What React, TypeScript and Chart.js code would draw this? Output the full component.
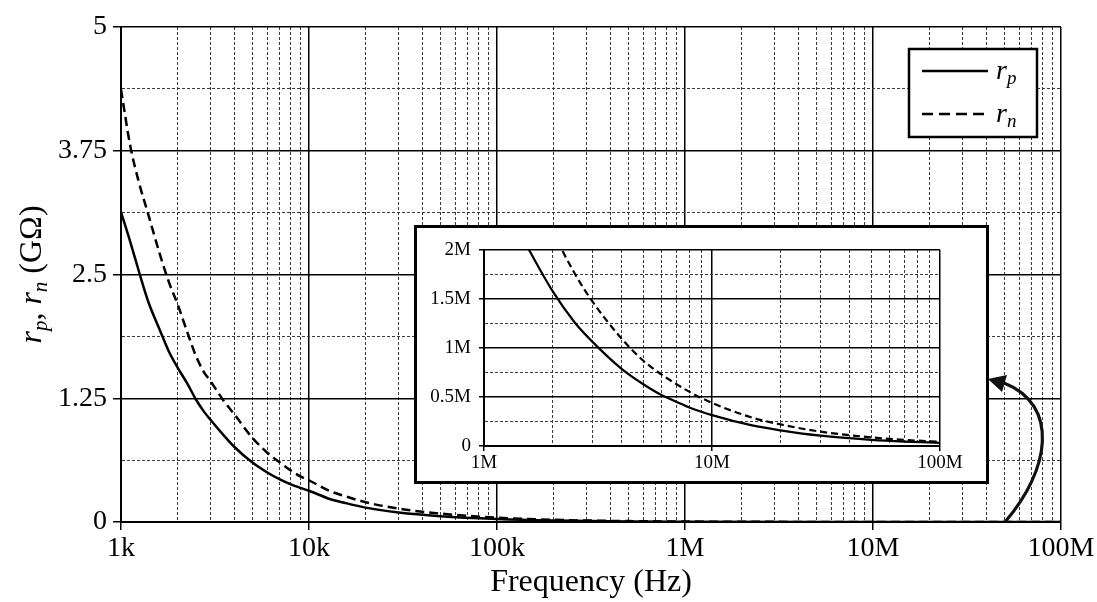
import React, { useEffect, useRef } from 'react';
import { Chart, registerables } from 'chart.js';

Chart.register(...registerables);

const FONT = '"Liberation Serif", "Times New Roman", Times, serif';

// ---- main chart data (frequency in Hz, resistance in GΩ) ----
const FREQ_MAIN = [1000, 1120, 1250, 1400, 1600, 1800, 2000, 2250, 2500, 2750, 3000, 3500, 4000, 5000, 6000, 7000, 8000, 9000, 10000, 13000, 15000, 20000, 30000, 50000, 100000, 200000, 500000, 1000000, 10000000, 100000000];
const RP_MAIN = [3.13, 2.83, 2.52, 2.22, 1.95, 1.72, 1.56, 1.4, 1.24, 1.12, 1.03, 0.88, 0.76, 0.6, 0.5, 0.43, 0.38, 0.345, 0.316, 0.23, 0.2, 0.145, 0.095, 0.058, 0.03, 0.015, 0.006, 0.003, 0.0003, 0.00003];
const RN_MAIN = [4.37, 3.8, 3.42, 3.1, 2.72, 2.42, 2.2, 1.92, 1.68, 1.52, 1.42, 1.23, 1.09, 0.85, 0.7, 0.6, 0.52, 0.46, 0.42, 0.31, 0.27, 0.2, 0.135, 0.085, 0.044, 0.022, 0.009, 0.0044, 0.0004, 0.00004];

// ---- inset data (frequency in Hz, resistance in MΩ) ----
const FREQ_INSET = [1500000, 2000000, 2500000, 3000000, 4000000, 5000000, 6000000, 7000000, 8000000, 10000000, 15000000, 20000000, 30000000, 50000000, 70000000, 100000000];
const RP_INSET = [2.09, 1.58, 1.26, 1.06, 0.79, 0.63, 0.52, 0.45, 0.39, 0.315, 0.21, 0.16, 0.105, 0.063, 0.045, 0.032];
const RN_INSET = [2.92, 2.2, 1.76, 1.47, 1.1, 0.87, 0.73, 0.63, 0.55, 0.44, 0.29, 0.22, 0.146, 0.088, 0.062, 0.044];

// ---- ticks ----
const MAIN_X_TICKS = [1e3, 1e4, 1e5, 1e6, 1e7, 1e8];
const MAIN_X_LABELS = ['1k', '10k', '100k', '1M', '10M', '100M'];
const MAIN_Y_TICKS = [0, 1.25, 2.5, 3.75, 5];
const MAIN_Y_LABELS = ['0', '1.25', '2.5', '3.75', '5'];
const INSET_X_TICKS = [1e6, 1e7, 1e8];
const INSET_X_LABELS = ['1M', '10M', '100M'];
const INSET_Y_TICKS = [0, 0.5, 1, 1.5, 2];
const INSET_Y_LABELS = ['0', '0.5M', '1M', '1.5M', '2M'];

const X_TITLE = 'Frequency (Hz)';
const Y_TITLE_PARTS = [
  { t: 'r', it: true, sub: false },
  { t: 'p', it: true, sub: true },
  { t: ', ', it: false, sub: false },
  { t: 'r', it: true, sub: false },
  { t: 'n', it: true, sub: true },
  { t: ' (GΩ)', it: false, sub: false },
];
const LEGEND_ITEMS = [
  { main: 'r', sub: 'p', dashed: false },
  { main: 'r', sub: 'n', dashed: true },
];

function logGrid(min: number, max: number): number[] {
  const out: number[] = [];
  const e0 = Math.round(Math.log10(min));
  const e1 = Math.round(Math.log10(max));
  for (let e = e0; e < e1; e++) {
    for (let s = 1; s <= 9; s++) out.push(s * Math.pow(10, e));
  }
  out.push(max);
  return out;
}

function linGrid(majors: number[]): number[] {
  const out: number[] = [];
  for (let i = 0; i < majors.length; i++) {
    out.push(majors[i]);
    if (i < majors.length - 1) out.push((majors[i] + majors[i + 1]) / 2);
  }
  return out;
}

const isIn = (arr: number[], v: number) => arr.some((a) => Math.abs(a - v) < 1e-9 * Math.max(1, Math.abs(a)));

function gridOpts(majors: number[], tickLen: number, majorWidth: number) {
  const maj = (ctx: any) => ctx.tick && isIn(majors, ctx.tick.value);
  return {
    grid: {
      color: (ctx: any) => (maj(ctx) ? '#000' : '#3a3a3a'),
      lineWidth: (ctx: any) => (maj(ctx) ? majorWidth : 1),
      tickColor: (ctx: any) => (maj(ctx) ? '#000' : 'rgba(0,0,0,0)'),
      tickLength: tickLen,
      tickWidth: majorWidth,
      drawTicks: true,
    },
    border: {
      display: true,
      color: '#000',
      width: 2,
      dash: (ctx: any) => (ctx.tick && !maj(ctx) ? [3, 2] : []),
    },
  };
}

function labelFrom(ticks: number[], labels: string[]) {
  return (v: any) => {
    const i = ticks.findIndex((t) => Math.abs(t - v) < 1e-9 * Math.max(1, Math.abs(t)));
    return i >= 0 ? labels[i] : '';
  };
}

const mainDecor = {
  id: 'mainDecor',
  afterDraw(chart: any) {
    const ctx = chart.ctx as CanvasRenderingContext2D;
    // ---- Y axis title (rich text, rotated) ----
    ctx.save();
    const big = 32;
    const small = 21;
    const fontOf = (p: any) => `${p.it ? 'italic ' : ''}${p.sub ? small : big}px ${FONT}`;
    let total = 0;
    const widths = Y_TITLE_PARTS.map((p) => {
      ctx.font = fontOf(p);
      const w = ctx.measureText(p.t).width;
      total += w;
      return w;
    });
    const cy = (chart.chartArea.top + chart.chartArea.bottom) / 2;
    ctx.translate(41, cy);
    ctx.rotate(-Math.PI / 2);
    ctx.fillStyle = '#000';
    ctx.textBaseline = 'alphabetic';
    ctx.textAlign = 'left';
    let x = -total / 2;
    Y_TITLE_PARTS.forEach((p, i) => {
      ctx.font = fontOf(p);
      ctx.fillText(p.t, x, p.sub ? 6 : 0);
      x += widths[i];
    });
    ctx.restore();

    // ---- legend ----
    ctx.save();
    ctx.fillStyle = '#fff';
    ctx.fillRect(909, 49, 128, 88);
    ctx.lineWidth = 2.5;
    ctx.strokeStyle = '#000';
    ctx.strokeRect(909, 49, 128, 88);
    LEGEND_ITEMS.forEach((it, i) => {
      const y = 71 + i * 43;
      ctx.beginPath();
      ctx.setLineDash(it.dashed ? [11, 6] : []);
      ctx.lineWidth = 2.5;
      ctx.moveTo(922, y);
      ctx.lineTo(988, y);
      ctx.stroke();
      ctx.setLineDash([]);
      ctx.fillStyle = '#000';
      ctx.textBaseline = 'alphabetic';
      ctx.font = `italic 28px ${FONT}`;
      ctx.fillText(it.main, 996, y + 8);
      const w = ctx.measureText(it.main).width;
      ctx.font = `italic 19px ${FONT}`;
      ctx.fillText(it.sub, 996 + w, y + 13);
    });
    ctx.restore();

    // ---- arrow to the inset ----
    ctx.save();
    ctx.strokeStyle = '#111';
    ctx.fillStyle = '#111';
    ctx.lineWidth = 3.2;
    ctx.beginPath();
    ctx.moveTo(1005, 522);
    ctx.bezierCurveTo(1050, 470, 1060, 405, 1004, 383);
    ctx.stroke();
    ctx.beginPath();
    ctx.moveTo(988, 379);
    ctx.lineTo(1007, 375);
    ctx.lineTo(1002, 392);
    ctx.closePath();
    ctx.fill();
    ctx.restore();
  },
};

function MainChart() {
  const ref = useRef<HTMLCanvasElement>(null);
  useEffect(() => {
    const xGrid = logGrid(1e3, 1e8);
    const yGrid = linGrid(MAIN_Y_TICKS);
    const chart = new Chart(ref.current!, {
      type: 'line',
      data: {
        datasets: [
          {
            label: 'rp',
            data: FREQ_MAIN.map((f, i) => ({ x: f, y: RP_MAIN[i] })),
            borderColor: '#000',
            borderWidth: 2.5,
            pointRadius: 0,
            cubicInterpolationMode: 'monotone',
            fill: false,
          },
          {
            label: 'rn',
            data: FREQ_MAIN.map((f, i) => ({ x: f, y: RN_MAIN[i] })),
            borderColor: '#000',
            borderWidth: 2.5,
            borderDash: [9, 5],
            pointRadius: 0,
            cubicInterpolationMode: 'monotone',
            fill: false,
          },
        ],
      },
      options: {
        animation: false,
        responsive: false,
        maintainAspectRatio: false,
        layout: { padding: { top: 27, right: 36, bottom: 0, left: 0 } },
        plugins: { legend: { display: false }, tooltip: { enabled: false } },
        scales: {
          x: {
            type: 'logarithmic',
            min: 1e3,
            max: 1e8,
            afterBuildTicks: (s: any) => {
              s.ticks = xGrid.map((v) => ({ value: v }));
            },
            afterFit: (s: any) => {
              s.height = 80;
            },
            ticks: {
              autoSkip: false,
              maxRotation: 0,
              minRotation: 0,
              padding: 2,
              color: '#000',
              font: { family: FONT, size: 28 },
              callback: labelFrom(MAIN_X_TICKS, MAIN_X_LABELS),
            },
            ...gridOpts(MAIN_X_TICKS, 8, 1.5),
            title: {
              display: true,
              text: X_TITLE,
              color: '#000',
              font: { family: FONT, size: 32 },
              padding: { top: 0, bottom: 0 },
            },
          },
          y: {
            type: 'linear',
            min: 0,
            max: 5,
            afterBuildTicks: (s: any) => {
              s.ticks = yGrid.map((v) => ({ value: v }));
            },
            afterFit: (s: any) => {
              s.width = 121;
            },
            ticks: {
              autoSkip: false,
              padding: 6,
              color: '#000',
              font: { family: FONT, size: 28 },
              callback: labelFrom(MAIN_Y_TICKS, MAIN_Y_LABELS),
            },
            ...gridOpts(MAIN_Y_TICKS, 8, 1.5),
          },
        },
      },
      plugins: [mainDecor],
    } as any);
    return () => chart.destroy();
  }, []);
  return <canvas ref={ref} width={1097} height={602} style={{ display: 'block' }} />;
}

function InsetChart() {
  const ref = useRef<HTMLCanvasElement>(null);
  useEffect(() => {
    const xGrid = logGrid(1e6, 1e8);
    const yGrid = linGrid(INSET_Y_TICKS);
    const chart = new Chart(ref.current!, {
      type: 'line',
      data: {
        datasets: [
          {
            label: 'rp',
            data: FREQ_INSET.map((f, i) => ({ x: f, y: RP_INSET[i] })),
            borderColor: '#000',
            borderWidth: 2.2,
            pointRadius: 0,
            cubicInterpolationMode: 'monotone',
            fill: false,
          },
          {
            label: 'rn',
            data: FREQ_INSET.map((f, i) => ({ x: f, y: RN_INSET[i] })),
            borderColor: '#000',
            borderWidth: 2.2,
            borderDash: [7, 4],
            pointRadius: 0,
            cubicInterpolationMode: 'monotone',
            fill: false,
          },
        ],
      },
      options: {
        animation: false,
        responsive: false,
        maintainAspectRatio: false,
        layout: { padding: { top: 22, right: 46, bottom: 0, left: 0 } },
        plugins: { legend: { display: false }, tooltip: { enabled: false } },
        scales: {
          x: {
            type: 'logarithmic',
            min: 1e6,
            max: 1e8,
            afterBuildTicks: (s: any) => {
              s.ticks = xGrid.map((v) => ({ value: v }));
            },
            afterFit: (s: any) => {
              s.height = 35;
            },
            ticks: {
              autoSkip: false,
              maxRotation: 0,
              minRotation: 0,
              padding: 1,
              color: '#000',
              font: { family: FONT, size: 19 },
              callback: labelFrom(INSET_X_TICKS, INSET_X_LABELS),
            },
            ...gridOpts(INSET_X_TICKS, 5, 1.5),
          },
          y: {
            type: 'linear',
            min: 0,
            max: 2,
            afterBuildTicks: (s: any) => {
              s.ticks = yGrid.map((v) => ({ value: v }));
            },
            afterFit: (s: any) => {
              s.width = 67;
            },
            ticks: {
              autoSkip: false,
              padding: 8,
              color: '#000',
              font: { family: FONT, size: 19 },
              callback: labelFrom(INSET_Y_TICKS, INSET_Y_LABELS),
            },
            ...gridOpts(INSET_Y_TICKS, 5, 1.5),
          },
        },
      },
    } as any);
    return () => chart.destroy();
  }, []);
  return <canvas ref={ref} width={569} height={253} style={{ display: 'block' }} />;
}

export default function App() {
  return (
    <div style={{ position: 'absolute', left: 0, top: 0, width: 1097, height: 602, background: '#fff', overflow: 'hidden' }}>
      <MainChart />
      <div
        style={{
          position: 'absolute',
          left: 414,
          top: 225,
          width: 575,
          height: 259,
          boxSizing: 'border-box',
          border: '3px solid #000',
          background: '#fff',
        }}
      >
        <InsetChart />
      </div>
    </div>
  );
}
